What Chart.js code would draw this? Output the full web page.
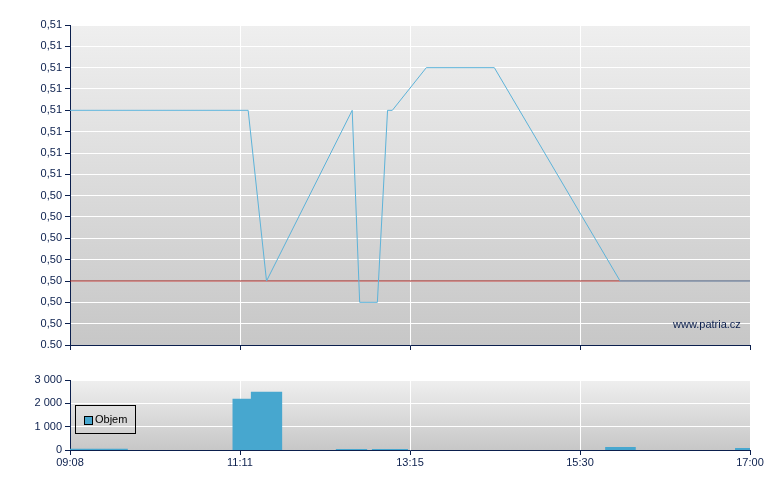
<!DOCTYPE html>
<html>
<head>
<meta charset="utf-8">
<title>Objem a cena</title>
<script src="https://cdn.jsdelivr.net/npm/chart.js@4.4.1/dist/chart.umd.min.js"></script>
<style>
    body { margin: 0; background: #fff; }
    #wrap { position: relative; width: 780px; height: 490px; font-family: "Liberation Sans", Arial, sans-serif; }
    #priceChart { position: absolute; left: 0; top: 0; }
    #volumeChart { position: absolute; left: 0; top: 360px; }
    .watermark { position: absolute; left: 673px; top: 318px; font-size: 11px; color: #0b1f4d; }
    .legend { position: absolute; left: 75px; top: 405px; width: 59px; height: 27px; border: 1px solid #000; font-size: 11px; color: #000; }
    .legend span.box { position: absolute; left: 8px; top: 10px; width: 7px; height: 7px; background: #47a7cf; border: 1px solid #000; }
    .legend span.txt { position: absolute; left: 19px; top: 7px; }
</style>
</head>
<body>
<div id="wrap">
    <canvas id="priceChart" width="780" height="360"></canvas>
    <canvas id="volumeChart" width="780" height="130"></canvas>
    <div class="watermark">www.patria.cz</div>
    <div class="legend"><span class="box"></span><span class="txt">Objem</span></div>
</div>
<script>
// x positions are in percent of the session axis (09:08 = 0, 17:00 = 100)
const timeTicks = [0, 25, 50, 75, 100];
const timeLabels = ['09:08', '11:11', '13:15', '15:30', '17:00'];

// price axis
const priceTicks = [0.5010, 0.5015, 0.5020, 0.5025, 0.5030, 0.5035, 0.5040, 0.5045,
                    0.5050, 0.5055, 0.5060, 0.5065, 0.5070, 0.5075, 0.5080, 0.5085];
const priceTickLabels = ['0.50', '0,50', '0,50', '0,50', '0,50', '0,50', '0,50', '0,50',
                         '0,51', '0,51', '0,51', '0,51', '0,51', '0,51', '0,51', '0,51'];

// price line
const priceX = [0, 26.2, 28.9, 41.5, 42.6, 45.2, 46.7, 47.4, 52.4, 62.4, 80.9, 100];
const priceY = [0.5065, 0.5065, 0.5025, 0.5065, 0.5020, 0.5020, 0.5065, 0.5065, 0.5075, 0.5075, 0.5025, 0.5025];

// previous close
const prevClose = 0.5025;

// volume (Objem) buckets
const volStart = [0, 23.9, 26.6, 39.1, 44.4, 78.7, 97.8];
const volEnd   = [8.5, 26.6, 31.2, 43.7, 49.7, 83.2, 100];
const volValue = [50, 2200, 2500, 40, 40, 130, 90];
const volTicks = [0, 1000, 2000, 3000];

const NAVY = '#0b1f4d';
const font = { family: '"Liberation Sans", Arial, sans-serif', size: 11 };

// gray gradient behind the plot area
const gradientBg = {
    id: 'gradientBg',
    beforeDraw(chart) {
        const { ctx, chartArea: a } = chart;
        const g = ctx.createLinearGradient(0, a.top, 0, a.bottom);
        g.addColorStop(0, '#efefef');
        g.addColorStop(1, '#c7c7c7');
        ctx.save();
        ctx.fillStyle = g;
        ctx.fillRect(a.left, a.top, a.right - a.left, a.bottom - a.top);
        ctx.restore();
    }
};

function xScale(showLabels, height) {
    return {
        type: 'linear',
        min: 0,
        max: 100,
        afterBuildTicks: s => { s.ticks = timeTicks.map(v => ({ value: v })); },
        afterFit: s => { s.height = height; },
        grid: { color: '#ffffff', lineWidth: 1, tickColor: NAVY, tickLength: 5 },
        border: { color: NAVY, width: 1 },
        ticks: {
            display: showLabels,
            color: NAVY,
            font: font,
            padding: 1,
            maxRotation: 0,
            callback: (v) => timeLabels[timeTicks.indexOf(v)]
        }
    };
}

// Price chart
const priceData = priceX.map((x, i) => ({ x: x, y: priceY[i] }));
new Chart(document.getElementById('priceChart'), {
    type: 'line',
    data: {
        datasets: [{
            data: priceData,
            borderColor: '#5db3d9',
            borderWidth: 1,
            pointRadius: 0,
            tension: 0
        }, {
            data: [{ x: 0, y: prevClose }, { x: 100, y: prevClose }],
            borderColor: '#9c1a16',
            borderWidth: 1,
            pointRadius: 0
        }]
    },
    options: {
        responsive: false,
        animation: false,
        layout: { padding: { top: 25, right: 30, left: 0, bottom: 0 } },
        plugins: { legend: { display: false }, tooltip: { enabled: false } },
        scales: {
            x: xScale(false, 15),
            y: {
                min: priceTicks[0],
                max: priceTicks[priceTicks.length - 1],
                afterBuildTicks: s => { s.ticks = priceTicks.map(v => ({ value: v })); },
                afterFit: s => { s.width = 70; },
                grid: { color: '#ffffff', lineWidth: 1, tickColor: NAVY, tickLength: 5 },
                border: { color: NAVY, width: 1 },
                ticks: {
                    color: NAVY,
                    font: font,
                    padding: 3,
                    callback: (v) => priceTickLabels[priceTicks.findIndex(t => Math.abs(t - v) < 1e-7)]
                }
            }
        }
    },
    plugins: [gradientBg]
});

// Volume chart: filled step line so each bucket keeps its own width
const volData = [];
volStart.forEach((s, i) => {
    volData.push({ x: s, y: volValue[i] });
    const next = volStart[i + 1];
    if (next === undefined || Math.abs(next - volEnd[i]) > 0.01) {
        volData.push({ x: volEnd[i], y: i === volStart.length - 1 ? volValue[i] : 0 });
    }
});

new Chart(document.getElementById('volumeChart'), {
    type: 'line',
    data: {
        datasets: [{
            label: 'Objem',
            data: volData,
            stepped: true,
            fill: 'origin',
            backgroundColor: '#47a7cf',
            borderColor: '#47a7cf',
            borderWidth: 0,
            pointRadius: 0
        }]
    },
    options: {
        responsive: false,
        animation: false,
        layout: { padding: { top: 20, right: 30, left: 0, bottom: 0 } },
        plugins: { legend: { display: false }, tooltip: { enabled: false } },
        scales: {
            x: xScale(true, 40),
            y: {
                min: 0,
                max: 3000,
                afterBuildTicks: s => { s.ticks = volTicks.map(v => ({ value: v })); },
                afterFit: s => { s.width = 70; },
                grid: { color: '#ffffff', lineWidth: 1, tickColor: NAVY, tickLength: 5 },
                border: { color: NAVY, width: 1 },
                ticks: {
                    color: NAVY,
                    font: font,
                    padding: 3,
                    callback: (v) => v === 0 ? '0' : (v / 1000) + ' 000'
                }
            }
        }
    },
    plugins: [gradientBg]
});
</script>
</body>
</html>
